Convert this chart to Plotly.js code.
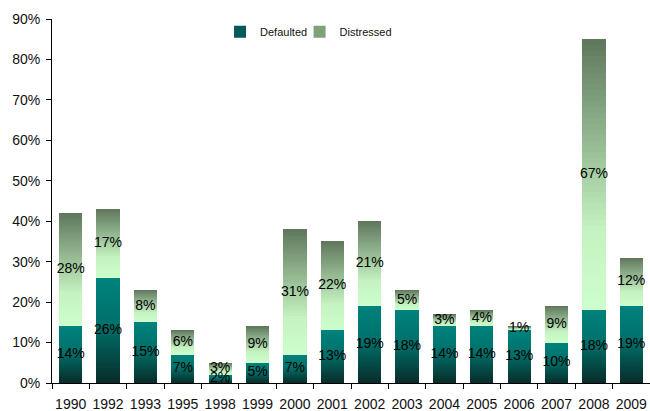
<!DOCTYPE html>
<html>
<head>
<meta charset="utf-8">
<script src="https://cdn.plot.ly/plotly-3.0.1.min.js"></script>
<style>
  html, body { margin: 0; padding: 0; background: #fff; }
  #chart { width: 650px; height: 411px; }
</style>
</head>
<body>
<div id="chart"></div>
<script>
// Years on the category axis
const years = ['1990', '1992', '1993', '1995', '1998', '1999', '2000', '2001',
               '2002', '2003', '2004', '2005', '2006', '2007', '2008', '2009'];

// Share of issuers (%) per year
const defaulted  = [14, 26, 15, 7, 2, 5, 7, 13, 19, 18, 14, 14, 13, 10, 18, 19];
const distressed = [28, 17, 8, 6, 3, 9, 31, 22, 21, 5, 3, 4, 1, 9, 67, 12];

const seriesNames = ['Defaulted', 'Distressed'];

// Colour stops (fraction of the segment's height -> colour), bottom to top
const defaultedStops  = [[0, [8, 44, 41]], [0.55, [0, 112, 106]], [1, [0, 130, 125]]];
const distressedStops = [[0, [204, 255, 204]], [0.3, [196, 242, 192]], [1, [94, 119, 92]]];
const legendColours = ['rgb(0,90,86)', 'rgb(128,160,124)'];

const SLICES = 48;

function colourAt(stops, f) {
  for (let i = 1; i < stops.length; i++) {
    if (f <= stops[i][0]) {
      const [f0, c0] = stops[i - 1];
      const [f1, c1] = stops[i];
      const t = (f - f0) / (f1 - f0);
      const c = c0.map((v, k) => Math.round(v + (c1[k] - v) * t));
      return 'rgb(' + c.join(',') + ')';
    }
  }
  return 'rgb(' + stops[stops.length - 1][1].join(',') + ')';
}

// Each segment is stacked as thin bands so it can carry a vertical shade.
function shadedSegment(values, stops, name) {
  const out = [];
  for (let s = 0; s < SLICES; s++) {
    const f = (s + 0.5) / SLICES;
    out.push({
      type: 'bar',
      x: years,
      y: values.map(v => v / SLICES),
      name: name,
      legendgroup: name,
      showlegend: false,
      marker: { color: colourAt(stops, f), line: { width: 0 } },
      hoverinfo: 'skip'
    });
  }
  return out;
}

// Legend-only entries (no visible bars); each series gets its own legend box
function legendEntry(name, colour, legendId) {
  return {
    type: 'bar',
    x: years,
    y: years.map(() => null),
    name: name,
    legend: legendId,
    legendgroup: name,
    showlegend: true,
    marker: { color: colour, line: { width: 0 } },
    hoverinfo: 'skip'
  };
}

const traces = [
  legendEntry(seriesNames[0], legendColours[0], 'legend'),
  legendEntry(seriesNames[1], legendColours[1], 'legend2'),
  ...shadedSegment(defaulted, defaultedStops, seriesNames[0]),
  ...shadedSegment(distressed, distressedStops, seriesNames[1])
];

// Value labels centred in each segment
traces.push({
  type: 'scatter',
  mode: 'text',
  x: years.concat(years),
  y: defaulted.map(v => v / 2).concat(distressed.map((v, i) => defaulted[i] + v / 2)),
  text: defaulted.concat(distressed).map(v => v + '%'),
  textposition: 'middle center',
  textfont: { family: '"Liberation Sans", Arial, sans-serif', size: 14, color: '#000' },
  showlegend: false,
  hoverinfo: 'skip',
  cliponaxis: false
});

const legendBase = {
  orientation: 'h',
  xanchor: 'left',
  y: 0.965, yanchor: 'middle',
  font: { size: 11, color: '#111' },
  bgcolor: 'rgba(0,0,0,0)'
};

const layout = {
  width: 650,
  height: 411,
  margin: { l: 52, r: 0, t: 19, b: 28 },
  paper_bgcolor: '#fff',
  plot_bgcolor: '#fff',
  barmode: 'stack',
  bargap: 0.38,
  font: { family: '"Liberation Sans", Arial, sans-serif', size: 14, color: '#111' },
  showlegend: true,
  legend: Object.assign({}, legendBase, { x: 0.281 }),
  legend2: Object.assign({}, legendBase, { x: 0.414 }),
  xaxis: {
    type: 'category',
    range: [-0.5, years.length - 0.5],
    automargin: false,
    showline: true,
    linecolor: '#000',
    linewidth: 1,
    ticks: 'outside',
    tickson: 'boundaries',
    ticklen: 5,
    tickcolor: '#000',
    tickangle: 0,
    ticklabelstandoff: 8,
    showgrid: false,
    zeroline: false,
    tickfont: { size: 14, color: '#111' }
  },
  yaxis: {
    range: [0, 90],
    dtick: 10,
    ticksuffix: '%',
    automargin: false,
    showline: true,
    linecolor: '#000',
    linewidth: 1,
    ticks: 'outside',
    ticklen: 5,
    tickcolor: '#000',
    ticklabelstandoff: 3,
    showgrid: false,
    zeroline: false,
    tickfont: { size: 14, color: '#111' }
  }
};

Plotly.newPlot('chart', traces, layout, { displayModeBar: false, staticPlot: true });
</script>
</body>
</html>
